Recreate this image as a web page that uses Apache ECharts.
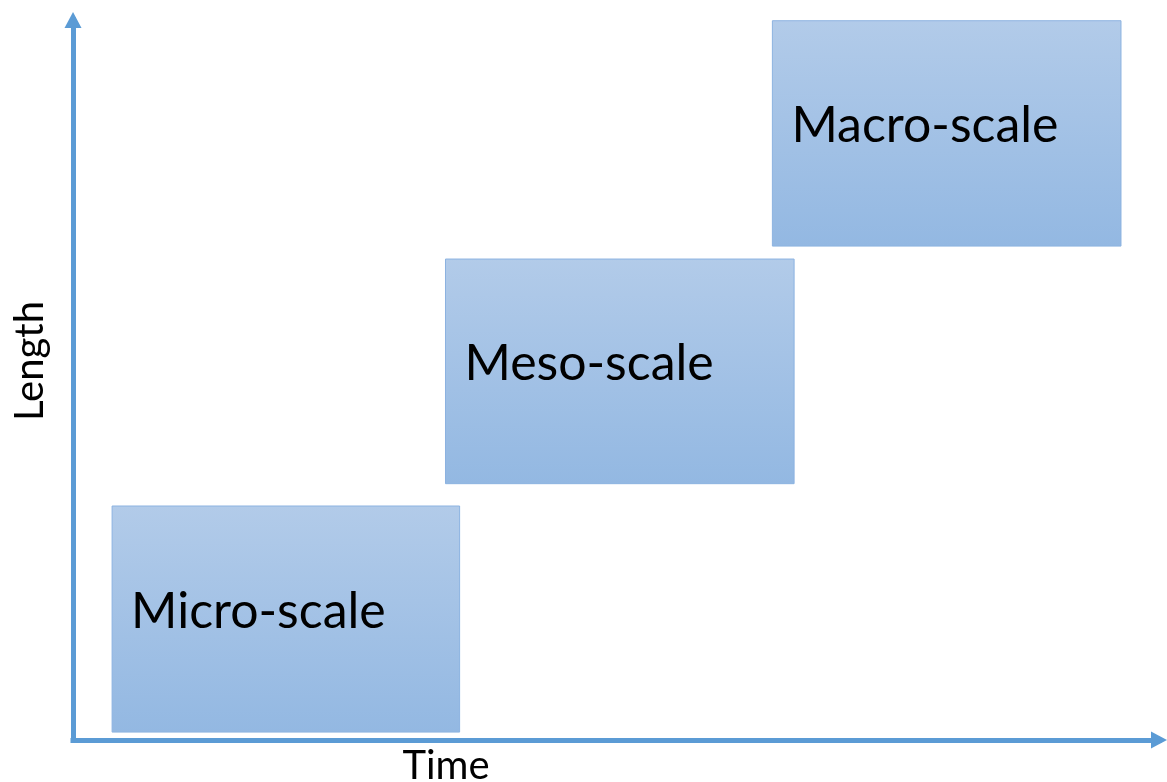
<!DOCTYPE html>
<html>
<head>
<meta charset="utf-8">
<script src="https://cdn.jsdelivr.net/npm/echarts@6/dist/echarts.min.js"></script>
<style>
  html, body { margin: 0; padding: 0; background: #ffffff; }
  #chart { width: 1167px; height: 782px; }
</style>
</head>
<body>
<div id="chart"></div>
<script>
// Three modelling scales placed on a time / length plane
const scaleNames = ['Micro-scale', 'Meso-scale', 'Macro-scale'];
const timeFrom   = [3.6, 34.3, 64.4];
const timeTo     = [35.6, 66.4, 96.5];
const lengthFrom = [1.1, 35.6, 68.6];
const lengthTo   = [32.5, 66.8, 99.9];

const axisBlue = '#5b9bd5';
const FONT = 'Lato';

const boxData = scaleNames.map((n, i) => [timeFrom[i], timeTo[i], lengthFrom[i], lengthTo[i], n]);

const chart = echarts.init(document.getElementById('chart'), null, { renderer: 'canvas' });

const axisCommon = {
  type: 'value',
  min: 0,
  max: 100,
  axisLine: {
    show: true,
    symbol: ['none', 'triangle'],
    symbolSize: [17, 16],
    lineStyle: { color: axisBlue, width: 5, cap: 'square' }
  },
  axisTick: { show: false },
  axisLabel: { show: false },
  splitLine: { show: false }
};

chart.setOption({
  animation: false,
  grid: { left: 73, right: 8, top: 20, bottom: 42 },
  xAxis: Object.assign({}, axisCommon),
  yAxis: Object.assign({}, axisCommon),
  graphic: [
    {
      type: 'text',
      x: 446, y: 766,
      style: {
        text: 'Time', font: '40px ' + FONT, fill: '#000',
        align: 'center', verticalAlign: 'middle'
      }
    },
    {
      type: 'text',
      x: 30, y: 361,
      rotation: Math.PI / 2,
      style: {
        text: 'Length', font: '40px ' + FONT, fill: '#000',
        align: 'center', verticalAlign: 'middle'
      }
    }
  ],
  series: [{
    type: 'custom',
    data: boxData,
    renderItem: function (params, api) {
      const p0 = api.coord([api.value(0), api.value(2)]);
      const p1 = api.coord([api.value(1), api.value(3)]);
      const x = p0[0], y = p1[1];
      const w = p1[0] - p0[0], h = p0[1] - p1[1];
      return {
        type: 'group',
        children: [
          {
            type: 'rect',
            shape: { x: x, y: y, width: w, height: h },
            style: {
              fill: new echarts.graphic.LinearGradient(0, 0, 0, 1, [
                { offset: 0, color: '#b2cbe9' },
                { offset: 1, color: '#93b8e2' }
              ]),
              stroke: '#8cb3e1',
              lineWidth: 1
            }
          },
          {
            type: 'text',
            x: x + 19,
            y: y + h / 2 - 7.5,
            style: {
              text: scaleNames[params.dataIndex],
              font: '50px ' + FONT,
              fill: '#000',
              align: 'left',
              verticalAlign: 'middle'
            }
          }
        ]
      };
    }
  }]
});
</script>
</body>
</html>
